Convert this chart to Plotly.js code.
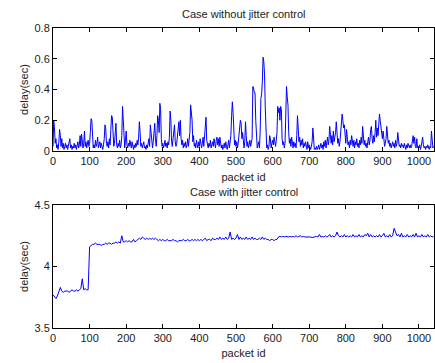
<!DOCTYPE html>
<html>
<head>
<meta charset="utf-8">
<script src="https://cdn.plot.ly/plotly-3.0.1.min.js"></script>
<style>html,body{margin:0;padding:0;background:#fff;}#chart{width:435px;height:363px;}</style>
</head>
<body>
<div id="chart"></div>
<script>
// Packet ids are sampled every 2 packets (top) and every 4 packets (bottom)
const topStep = 2;
const bottomStep = 4;

// Delay without jitter control (sec), ids 0,2,4,...,1040
const delayNoJitter = [
  // 0-98
  0.03,0.2,0.15,0.05,0.08,0.02,0.04,0.01,0.06,0.14,0.1,0.03,0.08,0.02,0.05,0.01,0.03,0.05,0.02,0.04,
  0.01,0.03,0.06,0.08,0.02,0.04,0.01,0.03,0.02,0.05,0.02,0.04,0.01,0.03,0.06,0.02,0.04,0.1,0.03,0.11,
  0.04,0.02,0.05,0.13,0.03,0.06,0.02,0.04,0.07,0.03,
  // 100-198
  0.05,0.12,0.21,0.2,0.06,0.02,0.04,0.02,0.07,0.03,0.05,0.09,0.02,0.04,0.06,0.02,0.05,0.03,0.01,0.04,
  0.08,0.17,0.15,0.05,0.03,0.06,0.02,0.08,0.04,0.14,0.23,0.22,0.06,0.03,0.05,0.1,0.18,0.04,0.02,0.05,
  0.03,0.07,0.02,0.04,0.1,0.29,0.2,0.05,0.02,0.07,
  // 200-298
  0.13,0.04,0.02,0.05,0.03,0.07,0.04,0.02,0.06,0.03,0.01,0.04,0.02,0.05,0.03,0.07,0.04,0.09,0.19,0.12,
  0.03,0.05,0.02,0.04,0.06,0.02,0.03,0.01,0.04,0.02,0.05,0.08,0.03,0.17,0.12,0.04,0.02,0.06,0.11,0.18,
  0.07,0.03,0.1,0.23,0.2,0.12,0.31,0.27,0.08,0.03,
  // 300-398
  0.05,0.02,0.04,0.07,0.03,0.05,0.02,0.06,0.04,0.09,0.26,0.2,0.06,0.03,0.08,0.14,0.17,0.06,0.03,0.05,
  0.12,0.14,0.19,0.1,0.2,0.08,0.04,0.07,0.02,0.05,0.03,0.06,0.02,0.04,0.08,0.03,0.06,0.12,0.3,0.25,
  0.2,0.06,0.1,0.03,0.05,0.02,0.07,0.04,0.02,0.06,
  // 400-498
  0.03,0.08,0.04,0.02,0.05,0.09,0.03,0.12,0.16,0.22,0.07,0.04,0.02,0.05,0.03,0.07,0.02,0.04,0.06,0.03,
  0.08,0.05,0.02,0.07,0.09,0.04,0.08,0.03,0.09,0.05,0.02,0.04,0.01,0.03,0.05,0.02,0.06,0.03,0.01,0.04,
  0.07,0.02,0.05,0.1,0.23,0.32,0.25,0.09,0.04,0.07,
  // 500-598
  0.03,0.06,0.02,0.05,0.09,0.16,0.2,0.18,0.08,0.12,0.04,0.02,0.06,0.19,0.1,0.03,0.06,0.02,0.04,0.07,
  0.03,0.05,0.08,0.42,0.41,0.38,0.38,0.2,0.05,0.02,0.04,0.06,0.02,0.12,0.34,0.37,0.45,0.61,0.58,0.5,
  0.28,0.05,0.02,0.04,0.01,0.03,0.1,0.08,0.02,0.05,
  // 600-698
  0.07,0.04,0.09,0.06,0.03,0.07,0.12,0.29,0.25,0.28,0.2,0.29,0.27,0.08,0.04,0.06,0.02,0.05,0.2,0.42,
  0.35,0.3,0.12,0.05,0.08,0.03,0.09,0.04,0.02,0.06,0.03,0.05,0.02,0.1,0.23,0.15,0.06,0.09,0.03,0.07,
  0.04,0.08,0.02,0.05,0.03,0.06,0.02,0.01,0.06,0.02,
  // 700-798
  0.04,0.02,0.01,0.03,0.06,0.15,0.03,0.01,0.02,0.01,0.03,0.01,0.02,0.04,0.01,0.03,0.05,0.02,0.04,0.01,
  0.06,0.03,0.07,0.02,0.05,0.09,0.04,0.07,0.16,0.12,0.05,0.1,0.04,0.13,0.06,0.09,0.12,0.19,0.14,0.05,
  0.08,0.03,0.06,0.12,0.18,0.24,0.2,0.15,0.17,0.09,
  // 800-898
  0.05,0.14,0.08,0.04,0.06,0.02,0.07,0.04,0.1,0.05,0.03,0.07,0.02,0.06,0.04,0.08,0.03,0.05,0.02,0.07,
  0.04,0.09,0.05,0.16,0.1,0.04,0.07,0.03,0.05,0.02,0.06,0.09,0.04,0.07,0.14,0.16,0.08,0.05,0.1,0.06,
  0.12,0.2,0.09,0.15,0.1,0.22,0.24,0.2,0.17,0.12,
  // 900-998
  0.08,0.13,0.06,0.03,0.05,0.08,0.16,0.1,0.05,0.07,0.03,0.05,0.02,0.04,0.06,0.03,0.05,0.02,0.07,0.03,
  0.05,0.12,0.06,0.03,0.04,0.02,0.05,0.03,0.04,0.02,0.05,0.03,0.01,0.04,0.02,0.05,0.03,0.02,0.04,0.02,
  0.03,0.06,0.1,0.05,0.09,0.03,0.02,0.08,0.02,0.03,
  // 1000-1040
  0.02,0.04,0.01,0.03,0.05,0.09,0.04,0.02,0.03,0.01,0.03,0.02,0.04,0.02,0.01,0.03,0.02,0.13,0.05,0.02,
  0.03
];

// Delay with jitter control (sec), ids 0,4,8,...,1040
const delayJitter = [
  // 0-96
  3.77,3.75,3.74,3.76,3.79,3.83,3.8,3.79,3.8,3.8,3.8,3.79,3.8,3.81,3.8,3.8,3.81,3.8,3.81,3.82,
  3.9,3.81,3.82,3.81,3.81,
  // 100-196
  4.16,4.17,4.18,4.18,4.19,4.18,4.18,4.18,4.17,4.18,4.18,4.19,4.18,4.19,4.19,4.18,4.19,4.19,4.2,4.19,
  4.2,4.19,4.25,4.2,4.2,
  // 200-296
  4.21,4.2,4.21,4.2,4.2,4.22,4.2,4.21,4.22,4.23,4.22,4.24,4.23,4.22,4.23,4.22,4.23,4.22,4.23,4.22,
  4.23,4.22,4.21,4.22,4.21,
  // 300-396
  4.22,4.21,4.21,4.22,4.21,4.21,4.21,4.22,4.21,4.21,4.2,4.21,4.21,4.21,4.22,4.21,4.21,4.22,4.21,4.21,
  4.22,4.21,4.22,4.21,4.22,
  // 400-496
  4.21,4.22,4.21,4.22,4.23,4.21,4.22,4.22,4.21,4.23,4.22,4.22,4.23,4.22,4.24,4.22,4.23,4.22,4.24,4.22,
  4.23,4.28,4.22,4.23,4.22,
  // 500-596
  4.23,4.26,4.22,4.24,4.22,4.23,4.22,4.24,4.22,4.23,4.22,4.24,4.22,4.23,4.22,4.22,4.23,4.22,4.24,4.22,
  4.23,4.22,4.22,4.21,4.22,
  // 600-696
  4.22,4.21,4.22,4.22,4.24,4.245,4.24,4.245,4.24,4.245,4.24,4.24,4.245,4.24,4.245,4.24,4.25,4.24,4.245,4.25,
  4.24,4.245,4.24,4.24,4.245,
  // 700-796
  4.24,4.24,4.235,4.24,4.24,4.245,4.24,4.26,4.24,4.245,4.24,4.25,4.24,4.245,4.26,4.24,4.25,4.24,4.25,4.28,
  4.25,4.24,4.25,4.24,4.26,
  // 800-896
  4.24,4.25,4.24,4.25,4.24,4.26,4.24,4.25,4.24,4.26,4.24,4.25,4.24,4.26,4.25,4.27,4.24,4.26,4.24,4.25,
  4.24,4.25,4.24,4.26,4.24,
  // 900-996
  4.25,4.27,4.24,4.25,4.24,4.26,4.24,4.25,4.31,4.27,4.25,4.26,4.24,4.27,4.24,4.25,4.24,4.26,4.24,4.25,
  4.24,4.26,4.24,4.27,4.24,
  // 1000-1040
  4.25,4.24,4.26,4.24,4.25,4.24,4.26,4.24,4.25,4.24,4.245
];

const topTitle = "Case without jitter control";
const bottomTitle = "Case with jitter control";
const xLabel = "packet id";
const yLabel = "delay(sec)";

const idsTop = delayNoJitter.map((_, i) => i * topStep);
const idsBottom = delayJitter.map((_, i) => i * bottomStep);

const lineStyle = {color: "#0000ff", width: 1};
const traces = [
  {x: idsTop, y: delayNoJitter, type: "scatter", mode: "lines", line: lineStyle, xaxis: "x", yaxis: "y", hoverinfo: "skip"},
  {x: idsBottom, y: delayJitter, type: "scatter", mode: "lines", line: lineStyle, xaxis: "x2", yaxis: "y2", hoverinfo: "skip"}
];

const fontBase = {family: "Liberation Sans, Arial, sans-serif", size: 11, color: "#222"};
const axisCommon = {
  showline: true, linecolor: "#000", linewidth: 1, mirror: "ticks",
  ticks: "inside", ticklen: 4, tickcolor: "#000", tickwidth: 1,
  showgrid: false, zeroline: false, tickfont: fontBase
};

const layout = {
  width: 435, height: 363,
  margin: {l: 53, r: 1, t: 28, b: 35},
  paper_bgcolor: "#fff", plot_bgcolor: "#fff",
  font: fontBase,
  showlegend: false,
  xaxis: Object.assign({}, axisCommon, {domain: [0, 1], range: [0, 1041], dtick: 100, tick0: 0, anchor: "y",
    title: {text: xLabel, font: fontBase, standoff: 7}}),
  yaxis: Object.assign({}, axisCommon, {domain: [0.59, 1], range: [0, 0.8], dtick: 0.2, tick0: 0, anchor: "x",
    title: {text: yLabel, font: fontBase, standoff: 3}}),
  xaxis2: Object.assign({}, axisCommon, {domain: [0, 1], range: [0, 1041], dtick: 100, tick0: 0, anchor: "y2",
    title: {text: xLabel, font: fontBase, standoff: 6}}),
  yaxis2: Object.assign({}, axisCommon, {domain: [0, 0.41], range: [3.5, 4.5], dtick: 0.5, tick0: 3.5, anchor: "x2",
    title: {text: yLabel, font: fontBase, standoff: 3}}),
  annotations: [
    {text: topTitle, xref: "paper", yref: "paper", x: 0.5, y: 1, yshift: 14, xanchor: "center", yanchor: "middle", showarrow: false, font: fontBase},
    {text: bottomTitle, xref: "paper", yref: "paper", x: 0.5, y: 0.41, yshift: 13, xanchor: "center", yanchor: "middle", showarrow: false, font: fontBase}
  ]
};

Plotly.newPlot("chart", traces, layout, {displayModeBar: false, staticPlot: true});
</script>
</body>
</html>
